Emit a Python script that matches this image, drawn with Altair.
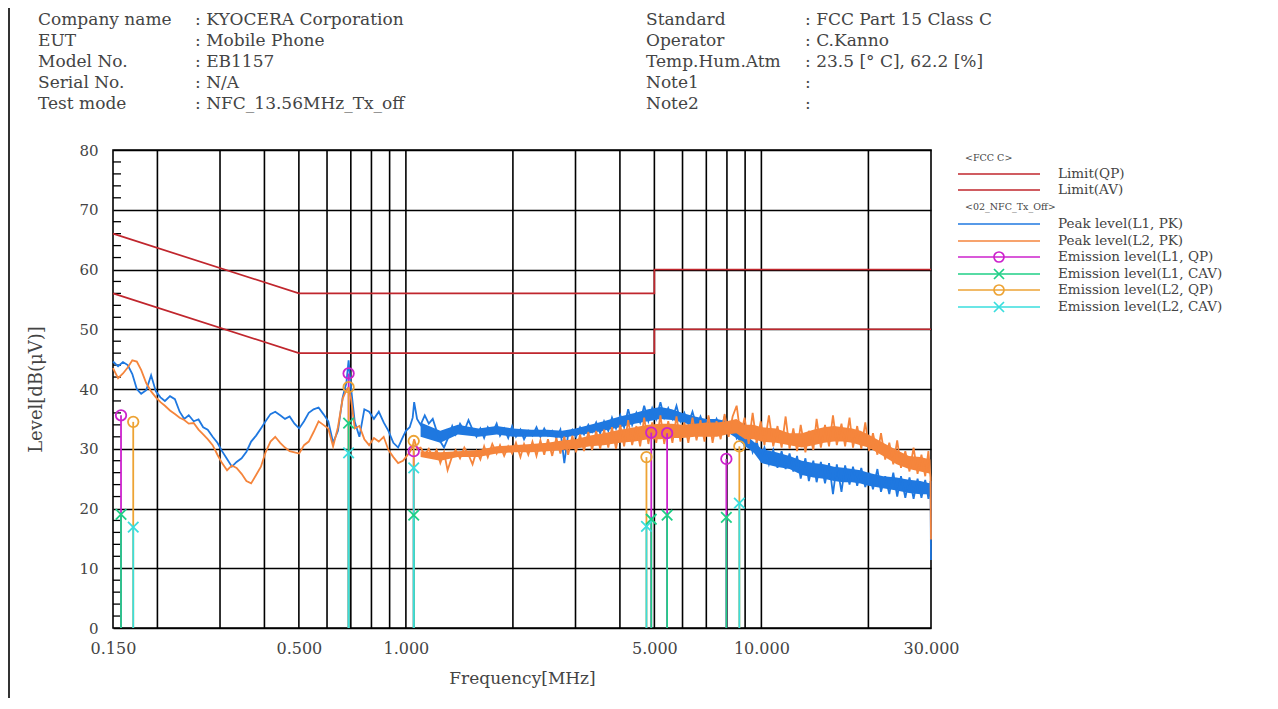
import altair as alt
import pandas as pd

# ---------------- header text ----------------
header_left_labels = ["Company name", "EUT", "Model No.", "Serial No.", "Test mode"]
header_left_values = [": KYOCERA Corporation", ": Mobile Phone", ": EB1157", ": N/A",
                      ": NFC_13.56MHz_Tx_off"]
header_right_labels = ["Standard", "Operator", "Temp.Hum.Atm", "Note1", "Note2"]
header_right_values = [": FCC Part 15 Class C", ": C.Kanno", ": 23.5 [° C], 62.2 [%]", ":", ":"]

# ---------------- peak traces ----------------
freq = [
    0.150, 0.155, 0.160, 0.165, 0.170, 0.175, 0.180, 0.186, 0.192, 0.198,
    0.204, 0.210, 0.217, 0.224, 0.231, 0.238, 0.245, 0.253, 0.261, 0.269,
    0.277, 0.286, 0.295, 0.304, 0.314, 0.324, 0.334, 0.345, 0.356, 0.367,
    0.379, 0.391, 0.403, 0.416, 0.429, 0.443, 0.457, 0.471, 0.486, 0.501,
    0.517, 0.533, 0.550, 0.568, 0.586, 0.605, 0.624, 0.644, 0.664, 0.680,
    0.690, 0.700, 0.718, 0.740, 0.764, 0.788, 0.813, 0.839, 0.866, 0.893,
    0.922, 0.951, 0.981, 1.000,
    1.025, 1.045, 1.055, 1.075,
    1.10, 1.13, 1.16, 1.19, 1.22, 1.25, 1.28, 1.31, 1.35, 1.38,
    1.42, 1.46, 1.50, 1.54, 1.58, 1.62, 1.66, 1.70, 1.75, 1.80,
    1.84, 1.89, 1.94, 1.99, 2.04, 2.10, 2.15, 2.21, 2.27, 2.33,
    2.39, 2.45, 2.51, 2.58, 2.65, 2.72, 2.79, 2.86, 2.94, 3.01,
    3.09, 3.17, 3.26, 3.34, 3.43, 3.52, 3.61, 3.71, 3.80, 3.90,
    4.01, 4.11, 4.22, 4.33, 4.45, 4.56, 4.68, 4.81, 4.93, 5.06,
    5.20, 5.33, 5.47, 5.62, 5.77, 5.92, 6.07, 6.23, 6.40, 6.57,
    6.74, 6.92, 7.10, 7.29, 7.48, 7.68, 7.88, 8.09, 8.30, 8.52,
    8.74, 8.97, 9.21, 9.45, 9.70, 9.96, 10.2, 10.5, 10.8, 11.1,
    11.4, 11.7, 12.0, 12.3, 12.6, 12.9, 13.3, 13.6, 14.0, 14.3,
    14.7, 15.1, 15.5, 15.9, 16.3, 16.8, 17.2, 17.7, 18.1, 18.6,
    19.1, 19.6, 20.1, 20.6, 21.2, 21.7, 22.3, 22.9, 23.5, 24.1,
    24.7, 25.4, 26.1, 26.8, 27.5, 28.2, 28.9, 29.5, 29.9, 30.0,
]

peak_l1 = [
    44.6, 43.8, 44.5, 44.0, 42.5, 40.0, 39.2, 39.8, 42.3, 39.6,
    38.6, 38.0, 38.8, 38.3, 36.2, 35.0, 35.6, 34.6, 34.9, 33.6,
    33.2, 32.0, 31.0, 29.6, 28.3, 27.0, 27.8, 28.4, 29.5, 31.2,
    32.2, 33.4, 34.6, 35.8, 36.2, 35.6, 35.0, 35.4, 34.2, 33.4,
    34.6, 36.0, 36.6, 36.9, 35.8, 34.6, 31.0, 33.0, 38.6, 41.0,
    44.8, 40.5, 34.5, 32.0, 36.6, 36.2, 35.0, 36.2, 34.4, 33.0,
    31.0, 30.2, 32.0, 33.0,
    33.6, 35.2, 37.8, 35.0,
    34.0, 35.6, 34.2, 35.0, 33.0, 31.2, 30.2, 31.6, 33.8, 32.4,
    34.2, 33.0, 34.8, 33.2, 32.0, 33.4, 31.8, 33.6, 32.6, 34.2,
    32.2, 33.4, 31.8, 33.8, 32.0, 33.2, 31.6, 33.0, 32.2, 33.6,
    32.0, 33.4, 32.2, 33.0, 31.8, 33.2, 27.6, 32.4, 33.2, 32.0,
    33.6, 32.4, 34.0, 32.8, 34.4, 32.6, 34.6, 33.0, 35.2, 33.4,
    35.6, 33.6, 36.6, 34.0, 36.0, 34.4, 37.2, 34.6, 36.8, 35.0,
    37.8, 35.2, 36.8, 35.0, 37.2, 34.6, 36.0, 34.2, 36.2, 33.8,
    35.4, 33.6, 35.2, 33.4, 35.0, 33.2, 35.4, 32.8, 34.4, 31.8,
    33.0, 30.4, 32.0, 29.4, 31.2, 28.4, 30.2, 27.4, 29.8, 26.8,
    29.6, 26.6, 29.2, 26.2, 28.8, 25.0, 28.4, 24.6, 28.0, 24.4,
    27.8, 24.2, 27.6, 22.4, 27.4, 22.8, 27.2, 24.0, 27.0, 23.8,
    26.8, 23.6, 26.0, 23.2, 26.6, 22.8, 25.4, 22.4, 26.0, 22.0,
    25.4, 21.8, 25.2, 21.6, 25.0, 21.8, 24.8, 21.6, 24.6, 11.4,
]

peak_l2 = [
    43.5, 41.8, 42.6, 43.6, 44.8, 44.6, 43.2, 41.0, 39.6, 38.6,
    37.8, 37.2, 36.4, 35.8, 35.2, 34.8, 34.2, 34.3, 33.2, 32.4,
    31.6, 30.6, 29.0, 27.6, 26.4, 27.2, 26.8, 25.8, 24.6, 24.2,
    25.6, 27.0, 29.4, 31.2, 32.0, 31.0, 30.2, 29.6, 29.4, 29.2,
    30.6, 31.2, 32.8, 34.6, 34.0, 33.4, 30.4, 33.6, 38.4, 39.8,
    40.3, 38.6, 33.4, 33.8, 31.6, 30.6, 31.8, 31.2, 32.0, 29.8,
    28.6, 27.6, 28.0, 28.6,
    29.4, 30.4, 31.6, 30.0,
    30.2, 29.0, 30.0, 28.6, 29.8, 27.6, 29.4, 26.4, 28.8, 29.8,
    28.4, 30.2, 29.0, 27.4, 29.6, 28.2, 30.4, 28.6, 30.8, 29.2,
    30.6, 28.8, 30.4, 29.2, 31.0, 28.6, 30.8, 29.0, 31.2, 28.8,
    31.4, 29.0, 31.6, 28.8, 31.8, 29.2, 32.0, 29.0, 32.2, 29.4,
    32.4, 29.6, 32.8, 29.8, 33.0, 30.0, 33.2, 30.2, 33.6, 30.0,
    34.0, 30.4, 34.8, 30.6, 33.8, 30.4, 35.2, 30.8, 34.4, 31.0,
    35.6, 30.8, 34.6, 31.0, 35.4, 31.2, 34.4, 31.0, 35.2, 31.4,
    34.8, 31.2, 35.6, 31.0, 34.6, 31.6, 35.8, 32.0, 35.4, 37.2,
    32.2, 35.2, 30.8, 36.0, 31.0, 34.6, 30.6, 35.6, 30.4, 33.8,
    30.2, 35.4, 30.0, 33.4, 29.6, 34.0, 29.4, 33.0, 29.8, 35.0,
    30.2, 34.0, 30.4, 35.6, 30.6, 34.2, 30.4, 35.2, 30.2, 33.8,
    30.0, 34.4, 29.6, 32.6, 29.0, 32.6, 28.2, 31.0, 27.4, 31.4,
    26.8, 29.6, 26.2, 30.2, 25.8, 29.0, 25.4, 29.6, 25.2, 14.8,
]

# envelopes of the dense noise bands (1.1 - 30 MHz)
band_freq = [1.10, 1.25, 1.40, 1.60, 1.80, 2.0, 2.25, 2.5, 2.75, 3.0,
             3.3, 3.6, 4.0, 4.4, 4.8, 5.2, 5.6, 6.0, 6.5, 7.0,
             7.5, 8.0, 8.5, 9.0, 9.5, 10.0, 11.0, 12.0, 13.0, 14.0,
             15.0, 16.0, 17.0, 18.0, 19.0, 20.0, 22.0, 24.0, 26.0, 28.0, 29.9]
band_l1_lo = [32.0, 31.0, 32.4, 32.0, 32.4, 32.0, 32.0, 32.0, 31.8, 32.2,
              32.6, 33.0, 33.6, 34.2, 34.6, 35.0, 34.8, 34.4, 33.8, 33.4,
              33.2, 32.8, 31.8, 30.4, 29.4, 27.6, 27.0, 26.6, 25.6, 25.2,
              25.0, 24.6, 24.4, 24.4, 24.2, 23.8, 23.4, 23.0, 22.6, 22.4, 22.4]
band_l1_hi = [34.4, 33.0, 34.0, 33.4, 33.8, 33.4, 33.2, 33.2, 33.0, 33.4,
              34.0, 34.6, 35.4, 36.0, 36.6, 37.0, 36.6, 36.0, 35.4, 35.0,
              35.0, 34.6, 33.6, 32.4, 31.2, 30.0, 29.4, 28.8, 28.0, 27.6,
              27.4, 27.0, 26.8, 26.6, 26.4, 26.0, 25.4, 25.2, 24.8, 24.6, 24.2]
band_l2_lo = [28.6, 28.0, 28.6, 28.6, 29.2, 29.4, 29.4, 29.6, 29.8, 30.0,
              30.4, 30.6, 31.0, 31.2, 31.6, 31.6, 31.8, 31.8, 32.0, 32.0,
              32.0, 32.4, 32.6, 31.6, 31.6, 31.2, 31.0, 30.6, 30.2, 30.6,
              31.0, 31.2, 31.2, 31.0, 30.6, 30.2, 28.8, 27.4, 26.6, 26.2, 25.8]
band_l2_hi = [29.6, 29.4, 29.6, 29.8, 30.4, 30.6, 30.8, 31.0, 31.4, 31.6,
              32.2, 32.6, 33.2, 33.6, 34.0, 34.2, 34.2, 34.0, 34.2, 34.4,
              34.4, 34.6, 35.0, 34.0, 34.0, 33.6, 33.4, 32.6, 32.6, 33.2,
              33.6, 33.8, 33.6, 33.4, 33.0, 32.4, 31.0, 29.8, 28.8, 28.6, 28.2]

# ---------------- limits ----------------
limit_freq = [0.15, 0.5, 5.0, 5.0, 30.0]
limit_qp = [66, 56, 56, 60, 60]
limit_av = [56, 46, 46, 50, 50]

# ---------------- emission (final) measurements ----------------
l1_freq = [0.158, 0.690, 1.052, 4.90, 5.43, 7.97]
l1_qp = [35.6, 42.6, 29.6, 32.7, 32.6, 28.3]
l1_cav = [19.0, 34.3, 18.9, 18.2, 18.9, 18.5]
l2_freq = [0.171, 0.690, 1.052, 4.75, 8.67]
l2_qp = [34.5, 40.3, 31.3, 28.6, 30.4]
l2_cav = [16.9, 29.3, 26.8, 17.0, 20.9]

# ---------------- axes ----------------
grid_freq = [0.2, 0.3, 0.4, 0.5, 0.6, 0.7, 0.8, 0.9, 1, 2, 3, 4, 5, 6, 7, 8, 9, 10, 20]
x_label_values = [0.15, 0.5, 1, 5, 10, 30]
y_label_values = [0, 10, 20, 30, 40, 50, 60, 70, 80]
y_minor = [2, 4, 6, 8, 12, 14, 16, 18, 22, 24, 26, 28, 32, 34, 36, 38,
           42, 44, 46, 48, 52, 54, 56, 58, 62, 64, 66, 68, 72, 74, 76, 78]

legend_groups = ["<FCC C>", "<02_NFC_Tx_Off>"]
legend_labels = ["Limit(QP)", "Limit(AV)", "Peak level(L1, PK)", "Peak level(L2, PK)",
                 "Emission level(L1, QP)", "Emission level(L1, CAV)",
                 "Emission level(L2, QP)", "Emission level(L2, CAV)"]

assert len(freq) == len(peak_l1) == len(peak_l2), (len(freq), len(peak_l1), len(peak_l2))
assert len(band_freq) == len(band_l1_lo) == len(band_l1_hi) == len(band_l2_lo) == len(band_l2_hi)

# ---------------- style ----------------
W, H = 818, 478
FONT = "DejaVu Serif"
TXT = "#444444"
C_LIMIT = "#c0262d"
C_L1 = "#1f78e0"
C_L2 = "#f5853c"
C_L1QP = "#cc22cc"
C_L1CAV = "#1fcf86"
C_L2QP = "#eda334"
C_L2CAV = "#3adede"
XSHAPE = "M-1,-1L1,1M-1,1L1,-1"

xs = alt.Scale(type="log", domain=[0.15, 30], nice=False, zero=False)
ys = alt.Scale(domain=[0, 80], nice=False, zero=True)
x_axis = alt.Axis(values=x_label_values, format=".3f", title="Frequency[MHz]", grid=False,
                  ticks=False, tickSize=0, domain=False, labelPadding=12, titlePadding=14,
                  labelFlush=False, labelFontSize=16, titleFontSize=17)
y_axis = alt.Axis(values=y_label_values, title="Level[dB(μV)]", grid=True, gridColor="black",
                  gridWidth=1.6, gridOpacity=1, ticks=False, tickSize=0, domain=False,
                  labelPadding=15, titlePadding=33, labelFontSize=15, titleFontSize=18)


def X():
    return alt.X("f:Q", scale=xs, axis=x_axis)


def Y():
    return alt.Y("v:Q", scale=ys, axis=y_axis)


one = pd.DataFrame({"k": [0]})
layers = []

# vertical grid
layers.append(alt.Chart(pd.DataFrame({"f": grid_freq}))
              .mark_rule(color="black", strokeWidth=1.6).encode(x=X()))
# minor ticks on the left edge
layers.append(alt.Chart(pd.DataFrame({"v": y_minor}))
              .mark_rule(color="black", strokeWidth=1.3)
              .encode(y=Y(), x=alt.value(0), x2=alt.value(8)))

# limit lines
for vals in (limit_qp, limit_av):
    df = pd.DataFrame({"f": limit_freq, "v": vals, "i": list(range(len(vals)))})
    layers.append(alt.Chart(df).mark_line(color=C_LIMIT, strokeWidth=1.7)
                  .encode(x=X(), y=Y(), order="i:Q"))

# peak traces (band + line), L1 first, L2 on top
for vals, lo, hi, col in ((peak_l1, band_l1_lo, band_l1_hi, C_L1),
                          (peak_l2, band_l2_lo, band_l2_hi, C_L2)):
    bdf = pd.DataFrame({"f": band_freq, "v": lo, "v2": hi})
    layers.append(alt.Chart(bdf).mark_area(color=col, opacity=1)
                  .encode(x=X(), y=Y(), y2=alt.Y2("v2:Q")))
    df = pd.DataFrame({"f": freq, "v": vals, "i": list(range(len(vals)))})
    layers.append(alt.Chart(df).mark_line(color=col, strokeWidth=1.8)
                  .encode(x=X(), y=Y(), order="i:Q"))

# emission drop lines
em_sets = [
    (l1_freq, l1_qp, C_L1QP, "circle"),
    (l2_freq, l2_qp, C_L2QP, "circle"),
    (l1_freq, l1_cav, C_L1CAV, XSHAPE),
    (l2_freq, l2_cav, C_L2CAV, XSHAPE),
]
for fr, vals, col, shp in em_sets:
    df = pd.DataFrame({"f": fr, "v": vals})
    layers.append(alt.Chart(df).mark_rule(color=col, strokeWidth=1.8)
                  .encode(x=X(), y=Y(), y2=alt.datum(0)))
for fr, vals, col, shp in em_sets:
    df = pd.DataFrame({"f": fr, "v": vals})
    layers.append(alt.Chart(df).mark_point(shape=shp, filled=False, color=col, size=110,
                                           strokeWidth=1.8, opacity=1)
                  .encode(x=X(), y=Y()))

# legend (drawn at the right of the plot)
LX0, LX1, LMK, LTX, LGX = 845, 927, 886, 945, 852
layers.append(alt.Chart(one).mark_text(text=legend_groups[0], align="left", baseline="middle",
                                       font=FONT, fontSize=9.5, color=TXT)
              .encode(x=alt.value(LGX), y=alt.value(8)))
layers.append(alt.Chart(one).mark_text(text=legend_groups[1], align="left", baseline="middle",
                                       font=FONT, fontSize=9.5, color=TXT)
              .encode(x=alt.value(LGX), y=alt.value(57)))
legend_style = [(C_LIMIT, None), (C_LIMIT, None), (C_L1, None), (C_L2, None),
                (C_L1QP, "circle"), (C_L1CAV, XSHAPE), (C_L2QP, "circle"), (C_L2CAV, XSHAPE)]
legend_y = [24, 40, 74, 91, 107, 124, 140, 157]
for lab, (col, shp), yy in zip(legend_labels, legend_style, legend_y):
    layers.append(alt.Chart(one).mark_rule(color=col, strokeWidth=1.7)
                  .encode(x=alt.value(LX0), x2=alt.value(LX1), y=alt.value(yy)))
    if shp:
        layers.append(alt.Chart(one).mark_point(shape=shp, filled=False, color=col, size=100,
                                                strokeWidth=1.7, opacity=1)
                      .encode(x=alt.value(LMK), y=alt.value(yy)))
    layers.append(alt.Chart(one).mark_text(text=lab, align="left", baseline="middle",
                                           font=FONT, fontSize=13.5, color=TXT)
                  .encode(x=alt.value(LTX), y=alt.value(yy)))

# header blocks
for txt, xx in ((header_left_labels, -75), (header_left_values, 82),
                (header_right_labels, 533), (header_right_values, 692)):
    layers.append(alt.Chart(one).mark_text(text="\n".join(txt), lineBreak="\n", lineHeight=21,
                                           align="left", baseline="alphabetic", font=FONT,
                                           fontSize=17, color=TXT)
                  .encode(x=alt.value(xx), y=alt.value(-125)))

# page border at the left
layers.append(alt.Chart(one).mark_rule(color="#333333", strokeWidth=2)
              .encode(x=alt.value(-104), y=alt.value(-142), y2=alt.value(H + 70)))

chart = (
    alt.layer(*layers)
    .properties(width=W, height=H, autosize=alt.AutoSizeParams(type="none"),
                padding={"left": 105, "top": 142, "right": 330, "bottom": 70})
    .configure_view(stroke="black", strokeWidth=1.6)
    .configure_axis(labelFont=FONT, titleFont=FONT, labelColor=TXT, titleColor=TXT,
                    titleFontWeight="normal")
)

chart.save("out.html", embed_options={"renderer": "svg", "actions": False})
